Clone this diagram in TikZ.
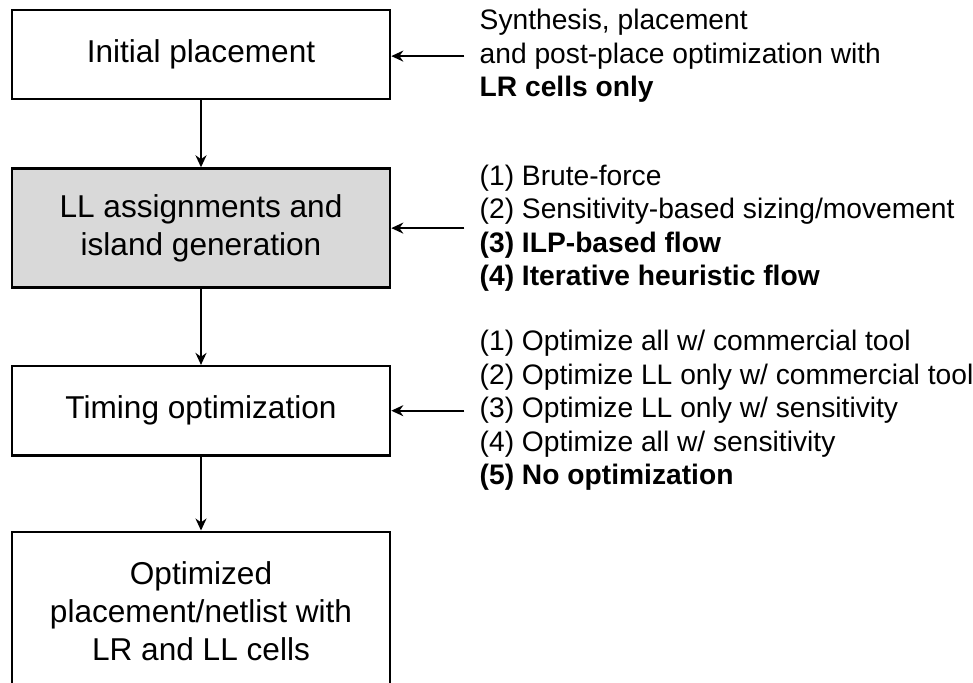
\documentclass[tikz,border=0pt]{standalone}
\usepackage{fontspec}
\setmainfont{Liberation Sans}
\usetikzlibrary{positioning,arrows.meta}

\begin{document}
\begin{tikzpicture}[box/.style={draw,line width=1.3pt,minimum width=189pt,align=center,
    font=\fontsize{15.8}{19}\selectfont},
  note/.style={align=left,inner xsep=0pt,inner ysep=0pt,font=\fontsize{14.1}{16.75}\selectfont},
  arr/.style={line width=1pt,-{Stealth[length=6pt,width=5.5pt]}}]
\clip (0,0) rectangle (486.5pt,-341.5pt);
\node[box,minimum height=44.5pt] (init) at (100.5pt,-27.25pt) {Initial placement};
\node[box,minimum height=59.5pt,fill=black!15,below=33.5pt of init] (assign) {LL assignments and\\island generation};
\node[box,minimum height=44.5pt,below=38pt of assign] (timing) {Timing optimization};
\node[box,minimum height=79pt,below=37pt of timing] (result) {Optimized\\placement/netlist with\\LR and LL cells};

\node[note,right=44pt of init,yshift=-0.8pt] (n1) {Synthesis, placement\\and post-place optimization with\\\textbf{LR cells only}};
\node[note,right=44pt of assign] (n2) {(1) Brute-force\\(2) Sensitivity-based sizing/movement\\\textbf{(3) ILP-based flow}\\\textbf{(4) Iterative heuristic flow}};
\node[note,right=44pt of timing] (n3) {(1) Optimize all w/ commercial tool\\(2) Optimize LL only w/ commercial tool\\(3) Optimize LL only w/ sensitivity\\(4) Optimize all w/ sensitivity\\\textbf{(5) No optimization}};

\foreach \a/\b in {init/assign,assign/timing,timing/result}
  \draw[arr] (\a) -- (\b);
\foreach \n/\b in {n1/init,n2/assign,n3/timing}
  \draw[arr] ([xshift=-7.5pt]\n.west) -- (\n.west -| \b.east);
\end{tikzpicture}
\end{document}
